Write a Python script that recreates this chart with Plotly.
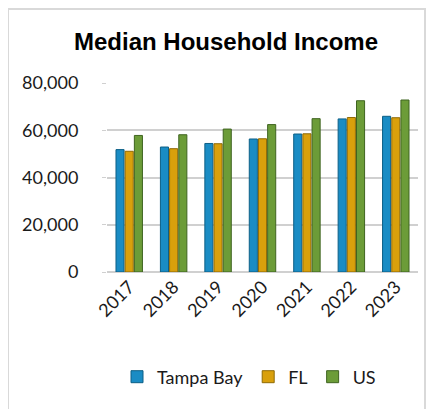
import plotly.graph_objects as go

years = ["2017", "2018", "2019", "2020", "2021", "2022", "2023"]
tampa_bay = [51800, 52900, 54400, 56300, 58400, 64800, 65900]
fl = [51100, 52200, 54300, 56400, 58500, 65400, 65300]
us = [57800, 58100, 60500, 62400, 64900, 72500, 72800]

# page is offset by the 8px body margin
O = 8
W, H = 434 - O, 409 - O
L, R, T, B = 107 - O, 16, 83 - O, 137
pw, ph = W - L - R, H - T - B

def px_x(x):  # page pixel -> paper
    return (x - O - L) / pw

def px_y(y):
    return (H - B - (y - O)) / ph

fig = go.Figure()
series = [
    ("Tampa Bay", tampa_bay, "#1a8cc4", "#0d5f86"),
    ("FL", fl, "#d9a00c", "#8f6a05"),
    ("US", us, "#6c9c38", "#3f6420"),
]
for name, vals, col, edge in series:
    fig.add_trace(go.Bar(
        x=years, y=vals, name=name,
        marker=dict(color=col, line=dict(color=edge, width=1)),
    ))

fig.update_layout(
    width=W, height=H,
    margin=dict(l=L, r=R, t=T, b=B, autoexpand=False),
    paper_bgcolor="white", plot_bgcolor="white",
    barmode="group", bargap=0.38, bargroupgap=0.12,
    title=dict(text="<b>Median Household Income</b>", x=(226 - O) / W, xanchor="center",
               y=1 - (42 - O) / H, yanchor="middle",
               font=dict(family="Liberation Sans, Arial", size=24, color="#000000")),
    font=dict(family="Lato, Noto Sans", size=18, color="#1a1a1a"),
    xaxis=dict(type="category", tickangle=-45, showgrid=False, showline=False,
               ticks="", tickfont=dict(size=18)),
    yaxis=dict(range=[0, 80000], tickvals=[0, 20000, 40000, 60000, 80000],
               tickformat=",", showgrid=True, gridcolor="#d0d0d0", gridwidth=1.5,
               zeroline=True, zerolinecolor="#d0d0d0", zerolinewidth=1.5,
               ticks="outside", ticklen=4, tickcolor="#d0d0d0",
               tickfont=dict(size=18), ticklabelstandoff=20),
    legend=dict(orientation="h", x=px_x(117), xanchor="left",
                y=px_y(377), yanchor="middle", font=dict(size=18),
                itemwidth=30, traceorder="normal"),
    shapes=[dict(type="rect", xref="paper", yref="paper",
                 x0=px_x(8), x1=px_x(425), y0=px_y(410), y1=px_y(9),
                 line=dict(color="#d9d9d9", width=2), layer="below")],
)

fig.write_html("out.html")
